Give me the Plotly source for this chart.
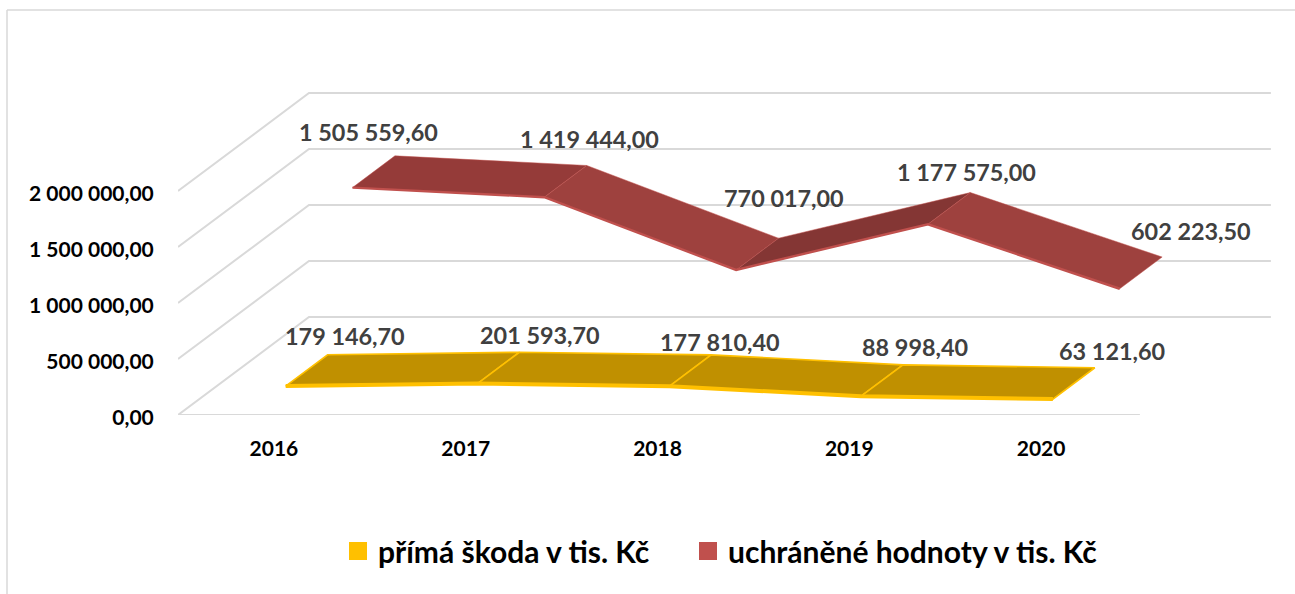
import plotly.graph_objects as go

# --- data ---
YEARS = ["2016", "2017", "2018", "2019", "2020"]
SKODA = [179146.70, 201593.70, 177810.40, 88998.40, 63121.60]
UCHRANENE = [1505559.60, 1419444.00, 770017.00, 1177575.00, 602223.50]
SKODA_LABELS = ["179 146,70", "201 593,70", "177 810,40", "88 998,40", "63 121,60"]
UCHRANENE_LABELS = ["1 505 559,60", "1 419 444,00", "770 017,00", "1 177 575,00", "602 223,50"]
TICK_VALUES = [0, 500000, 1000000, 1500000, 2000000]
TICK_LABELS = ["0,00", "500 000,00", "1 000 000,00", "1 500 000,00", "2 000 000,00"]
NAME_SKODA = "přímá škoda v tis. Kč"
NAME_UCHRANENE = "uchráněné hodnoty v tis. Kč"

# --- oblique projection of the 3D chart and layout constants ---
W, H = 1295, 594
LEFT, FLOOR_Y = 178, 415
CAT_PX = 191.8
PX_PER_UNIT = 112 / 1e6
DEPTH_DX = 131 / CAT_PX      # category units of horizontal shift across full depth
DEPTH_DY = 98 / PX_PER_UNIT  # value units of vertical shift across full depth
X_MIN, X_MAX = -0.5, 4.515
TOP_Y = 10
FONT = "Lato"

SKODA_DEPTH = (0.09, 0.41)
UCHRANENE_DEPTH = (0.60, 0.924)
# label offsets in pixels from the back vertex of the ribbon (dx, dy downward)
SKODA_SHIFT = [(17, -19), (21, -17), (9, -13), (12, -18), (17, -17)]
UCHRANENE_SHIFT = [(-26, -24), (3, -26), (5, -40), (-4, -21), (29, -26)]
RED_SEGMENT_FILLS = ["#953B39", "#9E413E", "#843634", "#9E413E"]


def proj(i, v, d):
    return i + d * DEPTH_DX, v + d * DEPTH_DY


fig = go.Figure()


def poly(xs, ys, fill=None, line=None, width=1, mode="lines"):
    fig.add_trace(go.Scatter(
        x=xs, y=ys, mode=mode, hoverinfo="skip", showlegend=False,
        fill="toself" if fill else "none", fillcolor=fill,
        line=dict(color=line or "rgba(0,0,0,0)", width=width, simplify=False),
    ))


# gridlines: side wall + back wall
GRID = "#D9D9D9"
for t in TICK_VALUES:
    a = proj(X_MIN, t, 0)
    b = proj(X_MIN, t, 1)
    c = proj(X_MAX, t, 1)
    poly([a[0], b[0], c[0]], [a[1], b[1], c[1]], line=GRID, width=2)
# floor front edge
a, b = proj(X_MIN, 0, 0), proj(X_MAX, 0, 0)
poly([a[0], b[0]], [a[1], b[1]], line=GRID, width=2)


def ribbon(values, depth, fills, edge, front_w, other_w):
    d0, d1 = depth
    n = len(values)
    for k in range(n - 1):
        p = [proj(k, values[k], d0), proj(k + 1, values[k + 1], d0),
             proj(k + 1, values[k + 1], d1), proj(k, values[k], d1),
             proj(k, values[k], d0)]
        poly([q[0] for q in p], [q[1] for q in p], fill=fills[k], line=edge, width=other_w)
    front = [proj(k, values[k], d0) for k in range(n)]
    poly([q[0] for q in front], [q[1] for q in front], line=edge, width=front_w)


ribbon(SKODA, SKODA_DEPTH, ["#C09000"] * 4, "#FFC000", 4, 1.6)
ribbon(UCHRANENE, UCHRANENE_DEPTH, RED_SEGMENT_FILLS, "#C0504D", 2.4, 0.5)

# legend entries (one legend per entry so each can be placed on its own)
for name, col, lg in ((NAME_SKODA, "#FFC000", "legend"), (NAME_UCHRANENE, "#C0504D", "legend2")):
    fig.add_trace(go.Scatter(x=[None], y=[None], mode="markers", name=name, legend=lg, showlegend=True,
                             marker=dict(symbol="square", size=16, color=col,
                                         line=dict(color=col, width=2))))


annotations = []
for vals, labs, shifts, depth in (
    (SKODA, SKODA_LABELS, SKODA_SHIFT, SKODA_DEPTH),
    (UCHRANENE, UCHRANENE_LABELS, UCHRANENE_SHIFT, UCHRANENE_DEPTH),
):
    for k, (v, lab, s) in enumerate(zip(vals, labs, shifts)):
        x, y = proj(k, v, depth[1])
        annotations.append(dict(
            x=x, y=y, xref="x", yref="y", text=lab, showarrow=False,
            xshift=s[0], yshift=-s[1], xanchor="center", yanchor="middle",
            font=dict(family=FONT, size=23.4, color="#404040", weight="bold"),
        ))

plot_w = W - LEFT
x_range = [-0.5, -0.5 + plot_w / CAT_PX]
y_range = [0, (FLOOR_Y - TOP_Y) / PX_PER_UNIT]


def paper_x(px):
    return (px - LEFT) / plot_w


def paper_y(px):
    return (FLOOR_Y - px) / (FLOOR_Y - TOP_Y)


legend_common = dict(orientation="h", y=paper_y(551), yanchor="middle", xanchor="left",
                     font=dict(family=FONT, size=30, color="black", weight="bold"),
                     bgcolor="rgba(0,0,0,0)", itemclick=False, itemdoubleclick=False)

fig.update_layout(
    width=W, height=H, autosize=False,
    margin=dict(l=LEFT, r=0, t=TOP_Y, b=H - FLOOR_Y, pad=0),
    paper_bgcolor="white", plot_bgcolor="white",
    font=dict(family=FONT),
    annotations=annotations,
    xaxis=dict(range=x_range, tickmode="array", tickvals=list(range(len(YEARS))), ticktext=YEARS,
               showgrid=False, zeroline=False, showline=False,
               ticks="outside", ticklen=15, tickcolor="rgba(0,0,0,0)",
               tickfont=dict(family=FONT, size=21, color="black", weight="bold")),
    yaxis=dict(range=y_range, tickmode="array", tickvals=TICK_VALUES, ticktext=TICK_LABELS,
               showgrid=False, zeroline=False, showline=False,
               ticks="outside", ticklen=19, tickcolor="rgba(0,0,0,0)", ticklabelshift=3,
               tickfont=dict(family=FONT, size=21, color="black", weight="bold")),
    legend=dict(x=paper_x(338), **legend_common),
    legend2=dict(x=paper_x(688), **legend_common),
    shapes=[
        dict(type="line", xref="paper", yref="paper",
             x0=paper_x(7), x1=paper_x(7), y0=paper_y(10), y1=paper_y(594),
             line=dict(color="#D9D9D9", width=1.5)),
        dict(type="line", xref="paper", yref="paper",
             x0=paper_x(7), x1=paper_x(1295), y0=paper_y(10), y1=paper_y(10),
             line=dict(color="#D9D9D9", width=1.5)),
    ],
)

fig.write_html("out.html", config={"displayModeBar": False},
               post_script="document.body.style.margin='0';document.documentElement.style.overflow='hidden';")
